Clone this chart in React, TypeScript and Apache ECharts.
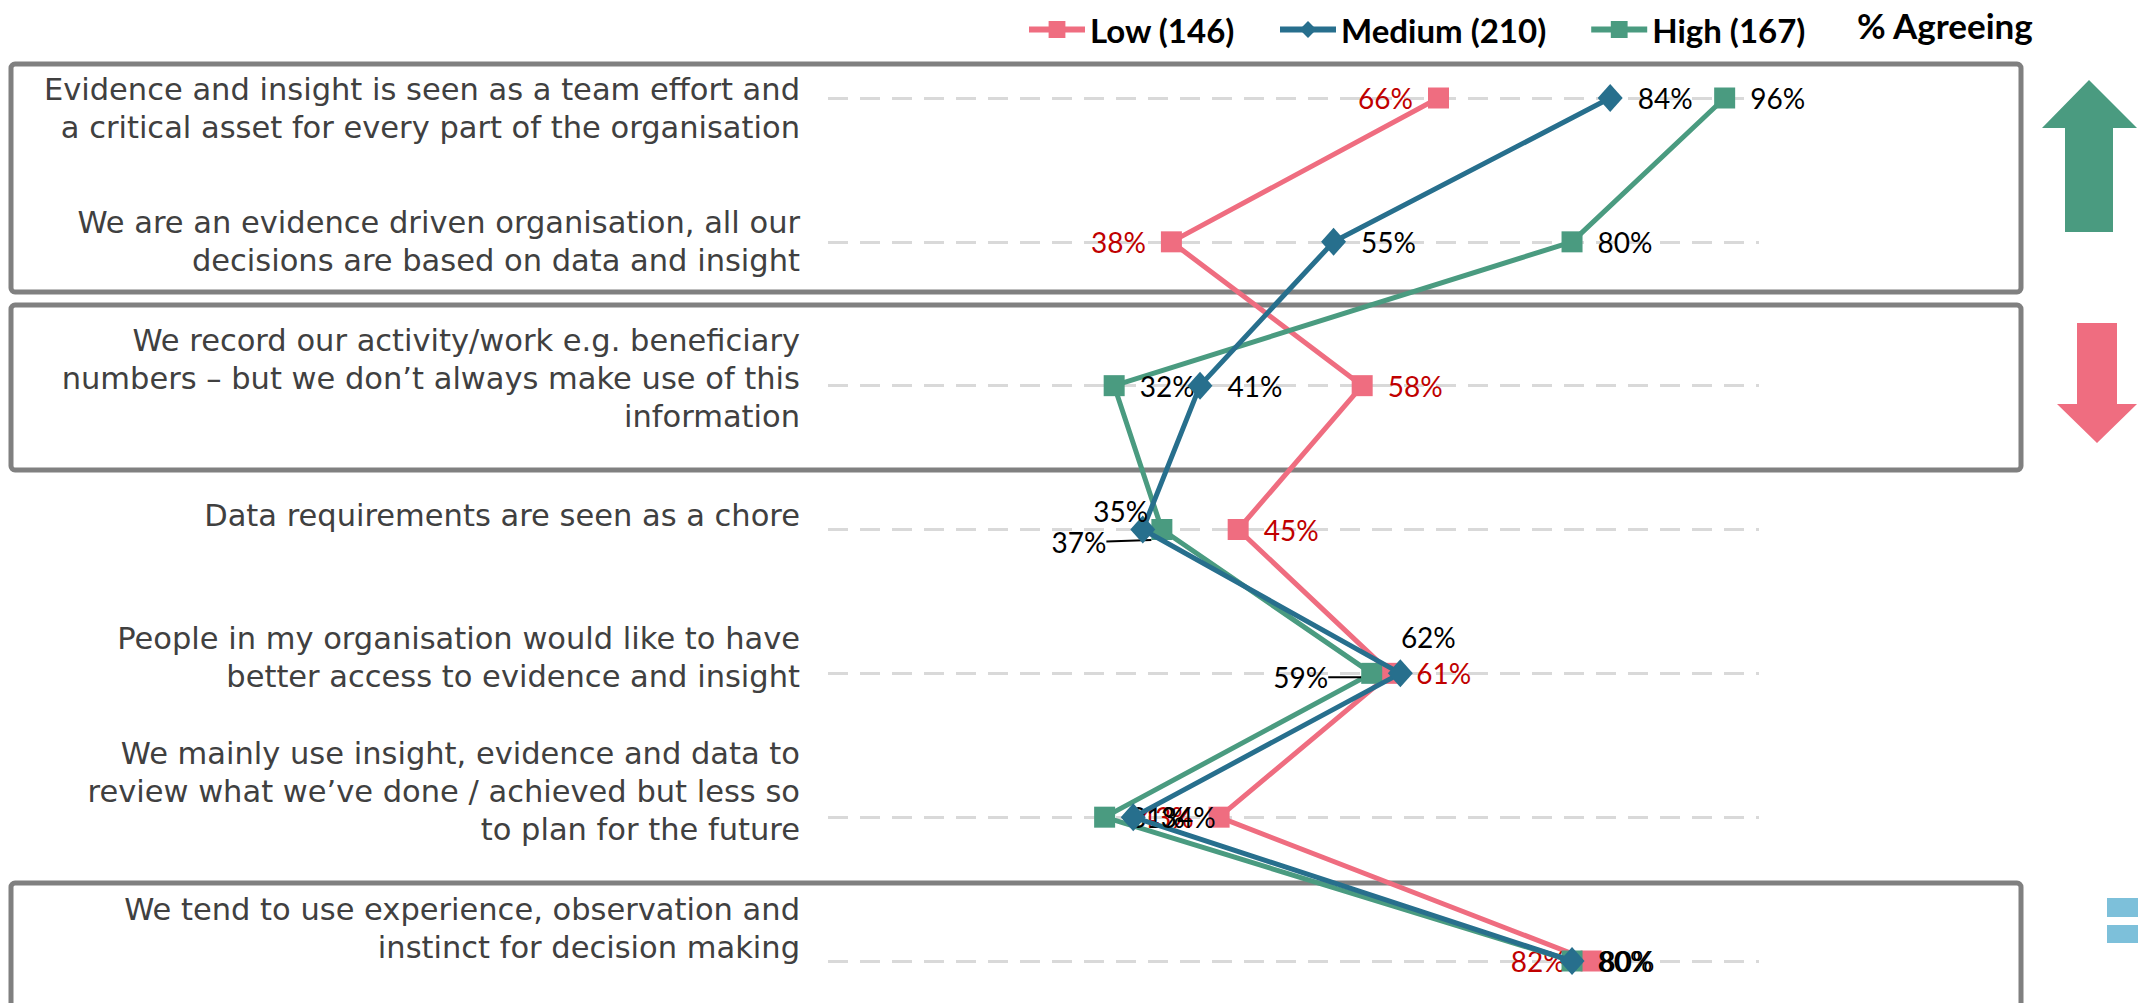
import React, { useEffect, useRef } from "react";
import * as echarts from "echarts";

const categories = [
  "Evidence and insight is seen as a team effort and\na critical asset for every part of the organisation",
  "We are an evidence driven organisation, all our\ndecisions are based on data and insight",
  "We record our activity/work e.g. beneficiary\nnumbers – but we don’t always make use of this\ninformation",
  "Data requirements are seen as a chore",
  "People in my organisation would like to have\nbetter access to evidence and insight",
  "We mainly use insight, evidence and data to\nreview what we’ve done / achieved but less so\nto plan for the future",
  "We tend to use experience, observation and\ninstinct for decision making",
];

const seriesNames = ["Low (146)", "Medium (210)", "High (167)"];
const lowValues = [66, 38, 58, 45, 61, 43, 82];
const mediumValues = [84, 55, 41, 35, 62, 34, 80];
const highValues = [96, 80, 32, 37, 59, 31, 80];

const lowLabelPos = ["left", "left", "right", "right", "right", "left", "left"];
const mediumLabelPos = ["right", "right", "right", "top", "top", "right", "right"];
const highLabelPos = ["right", "right", "right", "left", "left", "right", "right"];

// vertical shift (px, positive = up) of each category label relative to its row
const labelShift = [-10, 0, 7, 14, 16, 26, 33];

const FONT = "Lato";
const CAT_FONT = "DejaVu Sans";
const LOW_COLOR = "#EF6D80";
const MED_COLOR = "#276F8D";
const HIGH_COLOR = "#4A9B80";
const BOX = "#808080";

function buildData(values: number[], pos: string[], extra: Record<number, any> = {}) {
  return values.map((v, i) => {
    const e = extra[i] || {};
    const item: any = { value: v, label: { position: pos[i], ...(e.label || {}) } };
    if (e.labelLine) item.labelLine = e.labelLine;
    return item;
  });
}

export default function App() {
  const ref = useRef<HTMLDivElement>(null);
  useEffect(() => {
    const chart = echarts.init(ref.current!, null, { renderer: "svg" });
    const labelBase = {
      show: true,
      formatter: "{c}%",
      fontFamily: FONT,
      fontSize: 28,
      distance: 15,
    };
    const rich: Record<string, any> = {};
    labelShift.forEach((d, i) => {
      rich["s" + i] = { fontSize: 1, lineHeight: Math.max(1, Math.abs(d) * 2), height: Math.max(1, Math.abs(d) * 2) };
    });
    const option: any = {
      animation: false,
      backgroundColor: "#ffffff",
      legend: {
        data: seriesNames,
        left: 1021,
        top: 8,
        itemWidth: 56,
        itemHeight: 21,
        itemGap: 42,
        lineStyle: { width: 6 },
        textStyle: { fontFamily: FONT, fontWeight: "bold", fontSize: 33, color: "#000" },
      },
      grid: { left: 828, right: 379, top: 98, bottom: 42, containLabel: false, outerBoundsMode: "none" },
      xAxis: {
        type: "value",
        min: 2,
        max: 99.6,
        show: false,
      },
      yAxis: {
        type: "category",
        inverse: true,
        boundaryGap: false,
        data: categories,
        axisLine: { show: false },
        axisTick: { show: false },
        axisLabel: {
          interval: 0,
          showMinLabel: true,
          showMaxLabel: true,
          fontFamily: CAT_FONT,
          fontSize: 30.5,
          lineHeight: 38,
          color: "#404040",
          margin: 28,
          align: "right",
          formatter: (value: string, index: number) => {
            const d = labelShift[index];
            if (d > 0) return value + "\n{s" + index + "| }";
            if (d < 0) return "{s" + index + "| }\n" + value;
            return value;
          },
          rich,
        },
        splitLine: {
          show: true,
          lineStyle: { color: "#D9D9D9", width: 3, type: [20, 12] },
        },
      },
      series: [
        {
          name: seriesNames[0],
          type: "line",
          data: buildData(lowValues, lowLabelPos),
          symbol: "rect",
          symbolSize: 21,
          lineStyle: { width: 5, color: LOW_COLOR },
          itemStyle: { color: LOW_COLOR },
          label: { ...labelBase, color: "#C00000" },
          clip: false,
          z: 2,
        },
        {
          name: seriesNames[1],
          type: "line",
          data: buildData(mediumValues, mediumLabelPos, {
            3: { label: { offset: [-22, 24] } },
            4: { label: { offset: [28, 7] } },
          }),
          symbol: "diamond",
          symbolSize: [25, 28],
          lineStyle: { width: 5, color: MED_COLOR },
          itemStyle: { color: MED_COLOR },
          label: { ...labelBase, color: "#000" },
          clip: false,
          z: 4,
        },
        {
          name: seriesNames[2],
          type: "line",
          data: buildData(highValues, highLabelPos, {
            3: { labelLine: { show: true } },
            4: { labelLine: { show: true } },
          }),
          symbol: "rect",
          symbolSize: 21,
          lineStyle: { width: 5, color: HIGH_COLOR },
          itemStyle: { color: HIGH_COLOR },
          label: { ...labelBase, color: "#000" },
          labelLine: { show: false, lineStyle: { color: "#000", width: 2 } },
          labelLayout: (params: any) => {
            if (params.dataIndex === 3) return { dx: -30, dy: 12 };
            if (params.dataIndex === 4) return { dx: -18, dy: 4 };
            return {};
          },
          clip: false,
          z: 3,
        },
      ],
      graphic: [
        {
          type: "text",
          left: 1857,
          top: 7,
          style: { text: "% Agreeing", fontFamily: FONT, fontWeight: "bold", fontSize: 35, fill: "#000" },
        },
        { type: "rect", shape: { x: 11, y: 64, width: 2010, height: 228, r: 4 }, style: { fill: "none", stroke: BOX, lineWidth: 5 }, z: 0 },
        { type: "rect", shape: { x: 11, y: 305, width: 2010, height: 165, r: 4 }, style: { fill: "none", stroke: BOX, lineWidth: 5 }, z: 0 },
        { type: "rect", shape: { x: 11, y: 883, width: 2010, height: 130, r: 4 }, style: { fill: "none", stroke: BOX, lineWidth: 5 }, z: 0 },
        {
          type: "polygon",
          shape: { points: [[2089, 80], [2137, 128], [2113, 128], [2113, 232], [2065, 232], [2065, 128], [2042, 128]] },
          style: { fill: HIGH_COLOR },
        },
        {
          type: "polygon",
          shape: { points: [[2077, 323], [2117, 323], [2117, 404], [2137, 404], [2097, 443], [2057, 404], [2077, 404]] },
          style: { fill: LOW_COLOR },
        },
        { type: "rect", shape: { x: 2107, y: 898, width: 31, height: 19 }, style: { fill: "#7DC0DA" } },
        { type: "rect", shape: { x: 2107, y: 925, width: 31, height: 18 }, style: { fill: "#7DC0DA" } },
      ],
    };
    chart.setOption(option);
    return () => chart.dispose();
  }, []);
  return (
    <div
      ref={ref}
      style={{ position: "absolute", left: 0, top: 0, width: 2138, height: 1003 }}
    />
  );
}
